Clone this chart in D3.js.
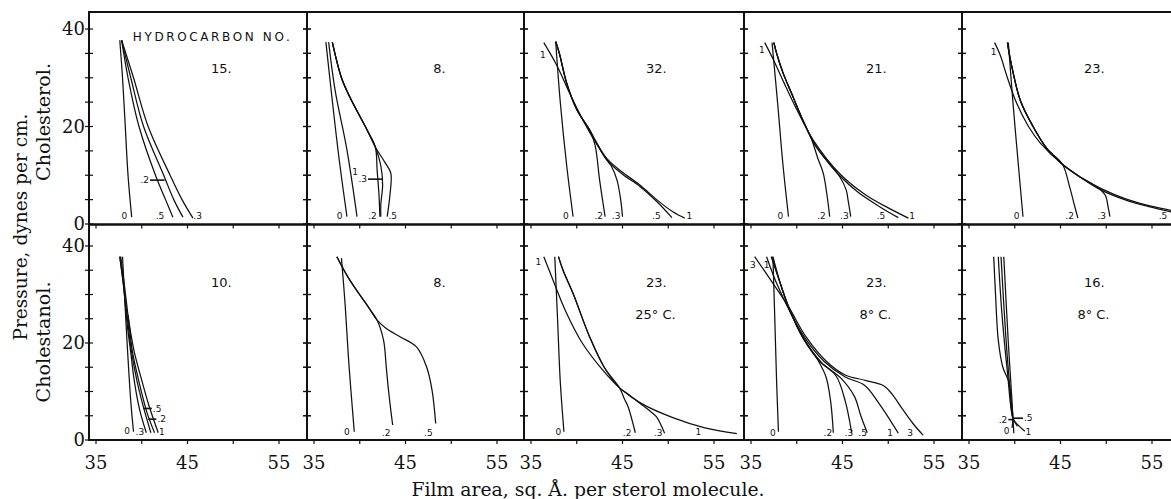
<!DOCTYPE html>
<html><head><meta charset="utf-8">
<script src="https://cdn.jsdelivr.net/npm/d3@7"></script>
<style>body{margin:0;background:#fff} svg{display:block}</style>
</head><body>
<svg id="c" width="1171" height="499"></svg>
<script>
// ---------------- DATA ----------------
const xTicks = [35, 40, 45, 50, 55];
const xTickLabels = [35, 45, 55];
const yTicks = [0, 5, 10, 15, 20, 25, 30, 35, 40];
const yTickLabels = [0, 20, 40];
const rowNames = ["Cholesterol.", "Cholestanol."];
const hydrocarbonNo = ["15.", "8.", "32.", "21.", "23.", "10.", "8.", "23.", "23.", "16."];
const temperatures = ["", "", "", "", "", "", "", "25° C.", "8° C.", "8° C."];

// series: [mole-fraction label, [[area, pressure], ...]]
const cholHC15 = [
  ["0",  [[37.6,37.7],[37.9,30],[38.2,20],[38.5,10],[38.9,1.4]]],
  [".5", [[37.8,37.7],[38.5,30],[39.7,20],[41.5,10],[42.6,5],[43.4,1.4]]],
  [".2", [[37.8,37.7],[38.8,30],[40.2,20],[42.4,10],[43.5,5],[44.5,1.4]]],
  [".3", [[37.8,37.7],[39.1,30],[40.7,20],[43.1,10],[44.4,5],[45.6,1.2]]]
];
const cholHC8 = [
  ["0",  [[36.3,37.3],[36.9,27],[37.7,14],[38.6,1.5]]],
  ["1",  [[36.6,37.3],[37.3,27.5],[38.6,15.2],[39.7,1.5]]],
  [".2", [[37.0,37.3],[38.0,30],[38.9,26.1],[40.8,19.3],[41.7,15.8],[41.9,11],[42.1,6],[42.2,1.5]]],
  [".3", [[37.0,37.3],[38.0,30],[38.9,26.1],[40.8,19.3],[41.7,15.8],[42.3,12],[42.5,8],[42.3,4],[42.3,1.5]]],
  [".5", [[37.0,37.3],[38.0,30],[38.9,26.1],[40.8,19.3],[41.7,15.8],[42.8,12.5],[43.4,10.4],[43.3,6],[43.0,1.5]]]
];
const cholHC32 = [
  ["0",  [[37.7,37.4],[38.2,25],[38.9,12],[39.6,1.5]]],
  ["1",  [[36.4,37.2],[37.8,32.6],[39.3,26.5],[41.2,19.5],[43.3,13.4],[45.0,10.6],[46.9,8.0],[48.8,4.9],[50.5,2.5],[51.8,1.2]]],
  [".2", [[37.7,37.4],[38.1,35],[38.9,28.9],[40.0,23.5],[41.4,19.3],[42.0,16.2],[42.5,9],[43.1,1.5]]],
  [".3", [[37.7,37.4],[38.1,35],[38.9,28.9],[40.0,23.5],[41.4,19.3],[42.0,17.2],[43.3,13.1],[43.8,11.8],[44.4,9],[44.8,5],[45.0,1.5]]],
  [".5", [[37.7,37.4],[38.1,35],[38.9,28.9],[40.0,23.5],[41.4,19.3],[42.0,17.2],[43.3,13.1],[45.0,10.2],[46.9,7.7],[48.8,4.5],[50.4,1.3]]]
];
const cholHC21 = [
  ["0",  [[37.3,37.2],[37.9,25],[38.5,12],[39.1,1.5]]],
  ["1",  [[36.5,37.2],[37.5,33.5],[38.6,29],[40.0,23.5],[41.8,17.2],[44.7,10.3],[47.5,6],[50.0,3.3],[52.2,1.2]]],
  [".2", [[37.5,37.2],[37.8,35],[38.5,31],[39.5,26.5],[40.5,22],[41.6,17.5],[42.3,13.5],[42.9,10.4],[43.3,6],[43.6,1.5]]],
  [".3", [[37.5,37.2],[37.8,35],[38.5,31],[39.5,26.5],[40.5,22],[42.0,16.2],[43.5,12.5],[44.7,9.7],[45.4,7],[45.6,5],[45.9,1.5]]],
  [".5", [[37.5,37.2],[37.8,35],[38.5,31],[39.5,26.5],[40.5,22],[42.0,16.2],[43.5,12.5],[44.7,9.9],[46.7,6.5],[49.1,3.5],[51.1,1.3]]]
];
const cholHC23 = [
  ["0",  [[39.3,37.2],[39.8,25],[40.4,12],[40.9,1.5]]],
  ["1",  [[37.8,37.2],[38.4,34.7],[39.2,30],[40.2,24.8],[41.5,20],[42.8,16.6],[45.1,12.4],[47.2,9.6],[49.5,7.2],[52.2,5.1],[55.0,3.6],[58.0,2.5]]],
  [".2", [[39.2,37.2],[39.6,33],[40.6,25.4],[42.0,20],[43.5,15.5],[45.2,12.3],[46.0,7.6],[46.5,4],[46.9,1.2]]],
  [".3", [[39.2,37.2],[39.6,33],[40.6,25.4],[42.0,20],[43.5,15.5],[45.1,12.4],[47.0,9.8],[49.0,7.6],[49.9,5.9],[50.2,3.5],[50.4,1.5]]],
  [".5", [[39.2,37.2],[39.6,33],[40.6,25.4],[42.0,20],[43.5,15.5],[45.1,12.4],[47.0,9.8],[49.3,7.1],[52.0,5.0],[54.8,3.5],[57.5,2.3]]]
];
const stanHC10 = [
  ["0",  [[37.9,37.8],[38.4,20],[38.8,8],[39.1,1.7]]],
  [".3", [[37.6,37.8],[38.0,32],[38.4,24],[38.8,18],[39.2,12],[39.8,6],[40.5,1.5]]],
  [".5", [[37.6,37.8],[38.0,32],[38.5,24],[38.9,18],[39.5,12],[40.3,6],[41.0,1.5]]],
  [".2", [[37.7,37.8],[38.1,32],[38.6,24],[39.0,18],[39.7,12],[40.6,5.5],[41.4,1.5]]],
  ["1",  [[38.5,25.8],[38.8,22],[39.2,18],[39.9,13],[40.8,7],[41.8,1.5]]]
];
const stanHC8 = [
  ["0",  [[38.0,37.5],[38.4,28],[38.8,16],[39.4,1.7]]],
  [".2", [[37.5,37.8],[38.9,33],[40.8,27.8],[41.9,24.7],[42.6,20.6],[42.9,15],[43.1,11],[43.4,6],[43.6,3.1]]],
  [".5", [[37.5,37.8],[38.9,33],[40.8,27.8],[41.9,24.7],[42.9,23],[44.4,21.3],[46.2,19.2],[47.3,15.1],[47.9,10.3],[48.3,3.4]]]
];
const stanHC23w = [
  ["0",  [[37.6,37.8],[37.9,25],[38.2,12],[38.6,1.7]]],
  ["1",  [[36.4,37.8],[37.4,33],[38.8,26.5],[40.6,20],[42.8,14.5],[44.7,10.7],[47.0,7.6],[50.5,4.6],[54.0,2.5],[57.5,1.3]]],
  [".2", [[38.0,37.8],[38.5,35],[39.6,30.2],[41.4,21.3],[43.0,15],[44.7,10.7],[45.2,8.5],[45.6,6.9],[46.4,1.5]]],
  [".3", [[38.0,37.8],[38.5,35],[39.6,30.2],[41.4,21.3],[43.0,15],[44.7,10.7],[45.6,9.5],[46.9,7.6],[48.0,6.0],[48.7,4.8],[49.6,1.4]]]
];
const stanHC23c = [
  ["0",  [[37.4,37.5],[37.6,25],[37.8,12],[38.0,1.7]]],
  [".2", [[37.4,37.8],[38.2,32.3],[39.3,26.5],[40.7,21],[42.3,16.5],[43.2,13],[43.7,8],[44.0,1.5]]],
  [".3", [[37.3,37.8],[38.2,32.3],[39.3,26.5],[40.7,21],[42.5,16.2],[44.3,13.2],[45.3,8],[46.0,1.5]]],
  [".5", [[37.2,37.8],[38.2,32.3],[39.3,26.5],[40.8,20.8],[42.7,16],[44.8,12.8],[46.3,9],[47.0,5],[47.7,1.5]]],
  ["1",  [[36.7,37.8],[37.8,32.3],[39.3,26.3],[40.9,21],[43.0,16.2],[45.3,13],[47.4,11.3],[49.0,7.5],[51.1,1.4]]],
  ["3",  [[35.4,37.8],[37.4,32.3],[39.1,27.5],[41.0,21.3],[43.2,16.3],[45.3,13.4],[47.5,12.3],[49.5,11.2],[50.4,9.5],[51.5,6.5],[52.7,3.4],[53.8,1.0]]]
];
const stanHC16 = [
  ["0",  [[38.8,37.8],[39.3,20],[39.7,8],[39.8,4.5],[39.9,1.4]]],
  [".2", [[38.5,37.8],[39.0,22],[39.5,10],[39.8,4.5],[39.7,2.5]]],
  [".5", [[38.2,37.8],[38.6,26],[39.2,14],[39.8,4.5],[40.3,2.8]]],
  ["1",  [[37.7,37.8],[37.9,30],[38.2,20.6],[38.7,15],[39.4,11.7],[39.8,4.5],[40.4,3],[41.1,1.8]]]
];
const panelSeries = [cholHC15, cholHC8, cholHC32, cholHC21, cholHC23,
                     stanHC10, stanHC8, stanHC23w, stanHC23c, stanHC16];

// curve labels [text, area, pressure]
const panelLabels = [
  [["0",38.1,1.6],[".5",42.0,1.6],[".3",46.1,1.6]],
  [["0",37.8,1.6],["1",39.5,10.7],[".2",41.4,1.6],[".5",43.6,1.6]],
  [["1",36.3,34.7],["0",38.8,1.6],[".2",42.4,1.6],[".3",44.3,1.6],[".5",48.7,1.6],["1",52.3,1.6]],
  [["1",36.2,35.7],["0",38.2,1.6],[".2",42.7,1.6],[".3",45.2,1.6],[".5",49.2,1.6],["1",52.6,1.6]],
  [["1",37.7,35.3],["0",40.2,1.6],[".2",46.0,1.6],[".3",49.5,1.6],[".5",56.2,1.6]],
  [["0",38.4,1.9],[".3",39.8,1.7],["1",42.2,1.7]],
  [["0",38.6,1.7],[".2",42.9,1.5],[".5",47.5,1.5]],
  [["1",35.8,36.7],["0",38.0,1.7],[".2",45.5,1.5],[".3",48.9,1.5],["1",53.3,1.7]],
  [["3",35.2,36.1],["1",36.7,36.1],["0",37.4,1.5],[".2",43.4,1.5],[".3",45.7,1.5],[".5",47.2,1.5],["1",50.2,1.5],["3",52.4,1.5]],
  [["0",39.1,1.9],["1",41.5,1.7]]
];
// pointer labels [text, area from, area to, pressure, side of text]
const panelPointers = [
  [[".2",40.9,42.5,9.0,"l"]],
  [[".3",40.9,42.5,9.2,"l"]],
  [], [], [],
  [[".5",40.2,41.1,6.5,"r"],[".2",40.7,41.6,4.3,"r"]],
  [], [], [],
  [[".2",39.3,39.8,4.2,"l"],[".5",39.9,40.9,4.5,"r"]]
];

// ---------------- LAYOUT ----------------
const svg = d3.select("#c");
const colLeft = [89, 307, 524, 744, 962];
const colWidth = [218, 217, 220, 218, 218];
const rowTop = [12, 224.5];
const rowBottom = [224.5, 440];
const rowY0 = [224, 440];
const rowY40 = [29, 246];
const serif = "'DejaVu Serif', 'Liberation Serif', serif";
const sans = "'DejaVu Sans', 'Liberation Sans', sans-serif";

const line = d3.line().curve(d3.curveCatmullRom.alpha(0.5));

panelSeries.forEach((series, i) => {
  const r = Math.floor(i / 5), c = i % 5;
  const L = colLeft[c], W = colWidth[c];
  const x = d3.scaleLinear().domain([35, 55]).range([L + 7, L + 190]);
  const y = d3.scaleLinear().domain([0, 40]).range([rowY0[r], rowY40[r]]);
  const g = svg.append("g");
  const clipId = "clip" + i;
  svg.append("clipPath").attr("id", clipId).append("rect")
    .attr("x", L).attr("y", rowTop[r]).attr("width", W).attr("height", rowBottom[r] - rowTop[r]);

  const cg = g.append("g").attr("clip-path", `url(#${clipId})`);
  series.forEach(([lab, pts]) => {
    cg.append("path")
      .attr("d", line(pts.map(d => [x(d[0]), y(d[1])])))
      .attr("fill", "none").attr("stroke", "#111").attr("stroke-width", 1.25);
  });

  // curve labels
  panelLabels[i].forEach(([t, a, p]) => {
    g.append("text").attr("x", x(a)).attr("y", y(p)).attr("dy", "0.35em")
      .attr("text-anchor", "middle").attr("font-family", sans).attr("font-size", 9)
      .attr("fill", "#111").text(t);
  });
  panelPointers[i].forEach(([t, a1, a2, p, side]) => {
    g.append("line").attr("x1", x(a1)).attr("x2", x(a2)).attr("y1", y(p)).attr("y2", y(p))
      .attr("stroke", "#111").attr("stroke-width", 1.6);
    g.append("text").attr("x", side === "l" ? x(a1) - 1 : x(a2) + 1).attr("y", y(p)).attr("dy", "0.35em")
      .attr("text-anchor", side === "l" ? "end" : "start")
      .attr("font-family", sans).attr("font-size", 9).attr("fill", "#111").text(t);
  });

  // panel number and temperature
  g.append("text").attr("x", x(48.7)).attr("y", y(r === 0 ? 32 : 32.5)).attr("dy", "0.35em")
    .attr("text-anchor", "middle").attr("font-family", sans).attr("font-size", 13)
    .attr("fill", "#111").text(hydrocarbonNo[i]);
  if (temperatures[i]) {
    g.append("text").attr("x", x(48.6)).attr("y", y(25.8)).attr("dy", "0.35em")
      .attr("text-anchor", "middle").attr("font-family", sans).attr("font-size", 13)
      .attr("fill", "#111").text(temperatures[i]);
  }
  if (i === 0) {
    g.append("text").attr("x", x(47.6)).attr("y", y(38.4)).attr("dy", "0.35em")
      .attr("text-anchor", "middle").attr("font-family", sans).attr("font-size", 12)
      .attr("textLength", 157).attr("lengthAdjust", "spacing")
      .attr("fill", "#111").text("HYDROCARBON NO.");
  }

  // frame
  g.append("rect").attr("x", L).attr("y", rowTop[r]).attr("width", W).attr("height", rowBottom[r] - rowTop[r])
    .attr("fill", "none").attr("stroke", "#111").attr("stroke-width", 2);

  // y ticks on both vertical edges
  yTicks.forEach(v => {
    [L, L + W].forEach(ex => {
      g.append("line").attr("x1", ex - 4).attr("x2", ex + 4).attr("y1", y(v)).attr("y2", y(v))
        .attr("stroke", "#111").attr("stroke-width", 1.2);
    });
  });
  // x ticks
  xTicks.forEach(v => {
    g.append("line").attr("x1", x(v)).attr("x2", x(v)).attr("y1", rowBottom[r]).attr("y2", rowBottom[r] + 4)
      .attr("stroke", "#111").attr("stroke-width", 1.2);
  });
  if (r === 1) {
    xTickLabels.forEach(v => {
      g.append("text").attr("x", x(v)).attr("y", 463).attr("dy", "0.35em")
        .attr("text-anchor", "middle").attr("font-family", serif).attr("font-size", 18)
        .attr("fill", "#111").text(v);
    });
  }
  if (c === 0) {
    yTickLabels.forEach(v => {
      g.append("text").attr("x", L - 4).attr("y", y(v)).attr("dy", "0.35em")
        .attr("text-anchor", "end").attr("font-family", serif).attr("font-size", 18)
        .attr("fill", "#111").text(v);
    });
  }
});

// axis titles
svg.append("text").attr("transform", "translate(20,227) rotate(-90)").attr("dy", "0.35em")
  .attr("text-anchor", "middle").attr("font-family", serif).attr("font-size", 19)
  .attr("textLength", 227).attr("lengthAdjust", "spacingAndGlyphs")
  .attr("fill", "#111").text("Pressure, dynes per cm.");
svg.append("text").attr("transform", "translate(43,122) rotate(-90)").attr("dy", "0.35em")
  .attr("text-anchor", "middle").attr("font-family", serif).attr("font-size", 19)
  .attr("textLength", 118).attr("lengthAdjust", "spacingAndGlyphs")
  .attr("fill", "#111").text(rowNames[0]);
svg.append("text").attr("transform", "translate(43,342) rotate(-90)").attr("dy", "0.35em")
  .attr("text-anchor", "middle").attr("font-family", serif).attr("font-size", 19)
  .attr("textLength", 121).attr("lengthAdjust", "spacingAndGlyphs")
  .attr("fill", "#111").text(rowNames[1]);
svg.append("text").attr("x", 588).attr("y", 489).attr("dy", "0.35em")
  .attr("text-anchor", "middle").attr("font-family", serif).attr("font-size", 19)
  .attr("textLength", 353).attr("lengthAdjust", "spacingAndGlyphs")
  .attr("fill", "#111").text("Film area, sq. Å. per sterol molecule.");
</script>
</body></html>
